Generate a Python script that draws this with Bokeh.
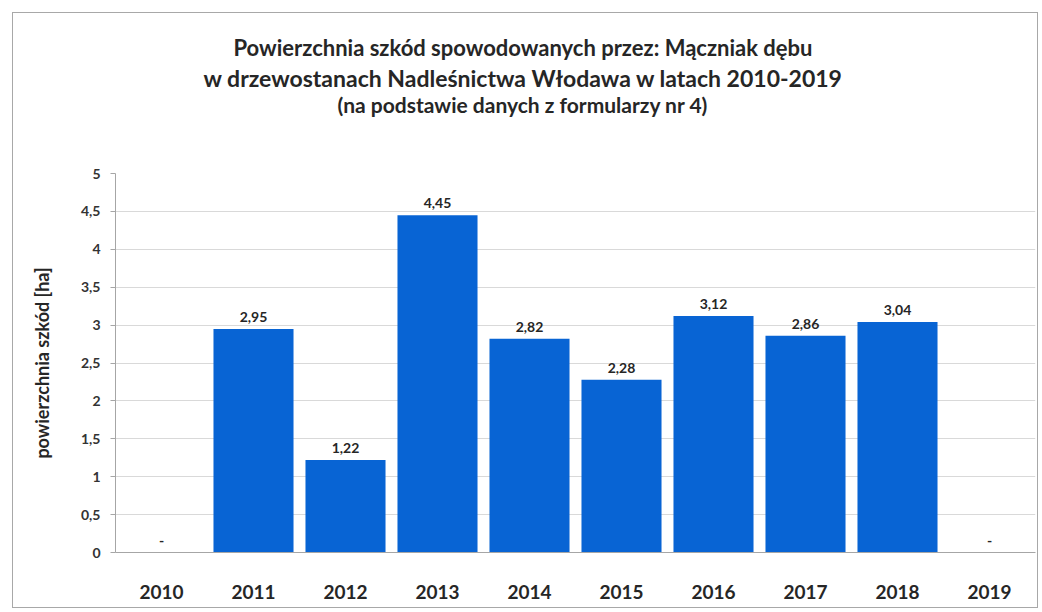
from bokeh.plotting import figure
from bokeh.models import ColumnDataSource, FixedTicker, CustomJSTickFormatter, Title
from bokeh.core.properties import value
from bokeh.embed import file_html
from bokeh.resources import INLINE

years = ["2010", "2011", "2012", "2013", "2014", "2015", "2016", "2017", "2018", "2019"]
area_ha = [0.0, 2.95, 1.22, 4.45, 2.82, 2.28, 3.12, 2.86, 3.04, 0.0]
y_ticks = [0, 0.5, 1, 1.5, 2, 2.5, 3, 3.5, 4, 4.5, 5]
title_lines = [
    "Powierzchnia szkód spowodowanych przez: Mączniak dębu",
    "w drzewostanach Nadleśnictwa Włodawa w latach 2010-2019",
    "(na podstawie danych z formularzy nr 4)",
]
y_title = "powierzchnia szkód [ha]"

labels = ["-" if v == 0 else f"{v:.2f}".replace(".", ",") for v in area_ha]
src = ColumnDataSource(dict(year=years, val=area_ha, lab=labels))

FONT = "Lato"
TXT = "#262626"
W, H = 1026, 596
ML, MB, MT, MR = 102, 57, 160, 4

p = figure(x_range=years, y_range=(0, 5), width=W, height=H,
           output_backend="svg", toolbar_location=None,
           min_border_left=ML, min_border_right=MR, min_border_top=MT, min_border_bottom=MB)
p.outline_line_color = None
p.background_fill_color = "white"
p.border_fill_color = "white"
p.styles = {"border": "1px solid #a8a8a8", "margin": "12px 0px 0px 12px"}

p.vbar(x="year", top="val", width=0.87, source=src, fill_color="#0864d4", line_color=None)
p.text(x="year", y="val", text="lab", source=src, text_align="center", text_baseline="bottom",
       y_offset=-7, text_font=value(FONT), text_font_style="bold", text_font_size="14px",
       text_color=TXT)

p.xgrid.grid_line_color = None
p.ygrid.grid_line_color = "#d9d9d9"
p.ygrid.ticker = FixedTicker(ticks=y_ticks)

p.yaxis.ticker = FixedTicker(ticks=y_ticks)
p.yaxis.formatter = CustomJSTickFormatter(code="return tick.toString().replace('.', ',');")
p.yaxis.axis_line_color = "#a6a6a6"
p.yaxis.major_tick_line_color = "#a6a6a6"
p.yaxis.major_tick_out = 5
p.yaxis.major_tick_in = 0
p.yaxis.minor_tick_line_color = None
p.yaxis.major_label_standoff = 10
p.yaxis.major_label_text_font = FONT
p.yaxis.major_label_text_font_style = "bold"
p.yaxis.major_label_text_font_size = "14px"
p.yaxis.major_label_text_color = "#333333"
p.yaxis.axis_label = y_title
p.yaxis.axis_label_standoff = 25
p.yaxis.axis_label_text_font = FONT
p.yaxis.axis_label_text_font_style = "bold"
p.yaxis.axis_label_text_font_size = "18px"
p.yaxis.axis_label_text_color = TXT

p.xaxis.axis_line_color = "#a6a6a6"
p.xaxis.major_tick_line_color = None
p.xaxis.major_label_standoff = 26
p.xaxis.major_label_text_font = FONT
p.xaxis.major_label_text_font_style = "bold"
p.xaxis.major_label_text_font_size = "19px"
p.xaxis.major_label_text_color = TXT

# spacer between titles and the plot area
p.add_layout(Title(text=" ", standoff=45, text_font_size="10px"), "above")
# titles: added bottom-most first
offsets = [118, 88, 222]
standoffs = [3, -2, -2]
sizes = ["22px", "23px", "21px"]
for i in [2, 1, 0]:
    p.add_layout(Title(text=title_lines[i], align="left", offset=offsets[i], standoff=standoffs[i],
                       text_font=FONT, text_font_style="bold", text_font_size=sizes[i],
                       text_color=TXT), "above")

open("out.html", "w").write(file_html(p, INLINE))
